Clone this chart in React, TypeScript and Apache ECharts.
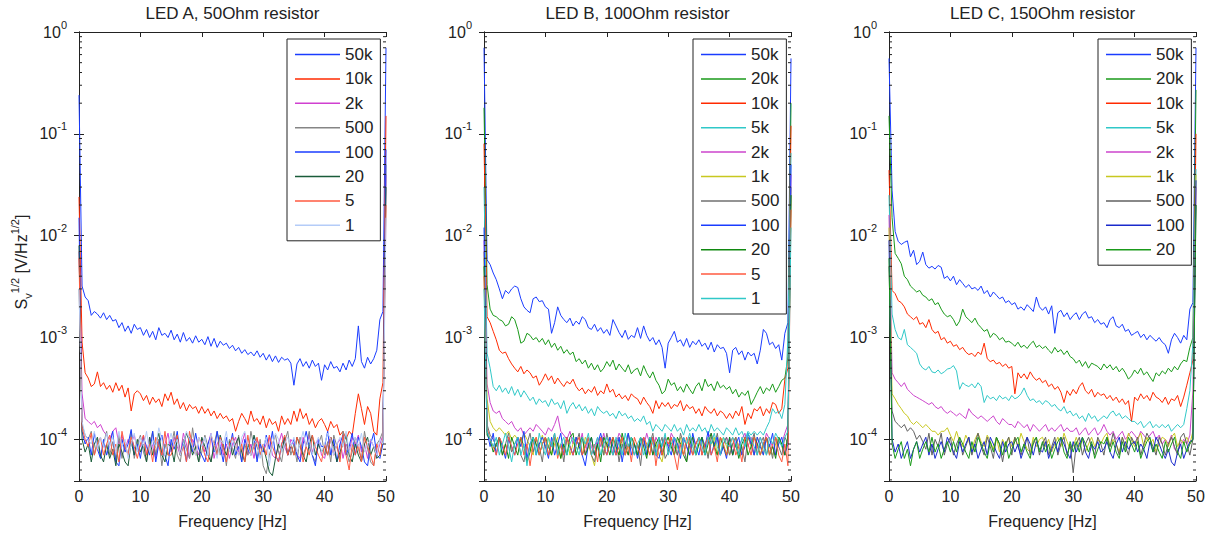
import React, { useEffect, useRef } from 'react';
import * as echarts from 'echarts';

// Values are in units of 1e-5 V/Hz^1/2, sampled every 0.5 Hz from 0 to 50 Hz (101 samples)
const UNIT = 1e-5;
const FREQ_MAX = 50;
const X_TICK_STEP = 10;
const Y_MIN = 3.9e-5;
const Y_MAX = 1;
const MINOR_MULT = [2, 3, 4, 5, 6, 7, 8, 9];
const DECADES = [1e-5, 1e-4, 1e-3, 1e-2, 1e-1];

const TITLES = ['LED A, 50Ohm resistor', 'LED B, 100Ohm resistor', 'LED C, 150Ohm resistor'];
const X_NAME = 'Frequency [Hz]';

// ---------- Panel A ----------
const A_50k = [
  24000, 320, 250, 230, 165, 180, 170, 155, 175, 150,
  165, 145, 150, 125, 140, 115, 130, 110, 135, 120,
  125, 105, 120, 100, 115, 95, 125, 105, 110, 100,
  118, 95, 108, 90, 112, 92, 100, 88, 104, 90,
  96, 85, 102, 82, 98, 80, 92, 84, 88, 78,
  84, 74, 80, 70, 76, 68, 72, 66, 74, 64,
  70, 60, 68, 58, 66, 57, 64, 60, 62, 56,
  34, 55, 62, 52, 58, 50, 60, 52, 56, 38,
  54, 48, 58, 50, 52, 46, 56, 48, 60, 52,
  62, 130, 58, 50, 64, 55, 62, 75, 150, 180,
  70000,
];
const A_10k = [
  2400, 90, 45, 40, 33, 35, 46, 33, 36, 31,
  34, 29, 36, 30, 34, 26, 32, 19, 28, 30,
  28, 24, 27, 22, 26, 23, 25, 21, 28, 24,
  29, 22, 25, 20, 23, 19, 22, 20, 21, 18,
  21, 18, 20, 17, 19, 16, 18, 16, 17, 15,
  16, 12, 15, 18, 16, 14, 19, 15, 16, 14,
  17, 13, 16, 14, 15, 12, 17, 14, 16, 14,
  19, 15, 20, 16, 18, 14, 16, 13, 15, 16,
  14, 12, 15, 13, 14, 11, 12, 10, 12, 11,
  18, 28, 20, 14, 21, 18, 12, 11, 25, 36,
  15000,
];
const A_2k = [
  700, 28, 16, 15, 14, 15, 13, 14, 12, 11,
  10, 12, 13, 9, 11, 8, 10, 9, 11, 8,
  8.5, 11, 7, 10.5, 8.5, 6.5, 10, 7, 9, 11.5,
  7.5, 10.5, 8.5, 7, 11.5, 9, 6.5, 10, 8.5, 7,
  10, 7.5, 9, 11.5, 6.5, 9, 10.5, 7, 9, 6.5,
  9, 10.5, 7.5, 9, 11.5, 7, 9, 6.5, 10, 8.5,
  7.5, 9, 10.5, 7, 6.5, 9, 11.5, 8.5, 7, 10,
  9, 7, 6.5, 10.5, 8.5, 11, 7.5, 9, 10, 7,
  6.5, 9, 10.5, 7, 9, 10, 6.5, 9, 7.5, 10.5,
  9, 11, 7.5, 9, 6.5, 10, 8.5, 7, 9, 11,
  4000,
];
const A_500 = [
  300, 14, 11, 10, 12, 7, 10, 6.5, 9, 12,
  7, 9.5, 6, 11, 6.5, 9, 7, 12, 6.5, 9,
  11, 7.5, 6, 9, 12, 7, 10, 5.5, 9, 7,
  8.5, 12, 7, 6, 10, 8, 6.5, 13, 8, 6,
  7.5, 11, 8.5, 6, 9, 12, 7, 9, 5.5, 10,
  8, 6.5, 11, 6, 9, 7, 12, 8.5, 6.5, 10,
  5.5, 4.6, 7, 9, 11, 7.5, 6, 9.5, 12, 7,
  9, 6, 10.5, 7, 8.5, 12, 7, 6, 9, 11,
  7, 9.5, 6, 11, 8.5, 6.5, 12, 8, 6, 7.5,
  10.5, 8, 6.5, 12, 8, 6, 5.5, 9, 10, 12,
  5000,
];
const A_100 = [
  1500, 12, 9, 10.5, 7, 11.5, 8, 6.5, 10, 7,
  9, 12, 6, 5.5, 10, 7.5, 9, 12.5, 7, 9,
  6.5, 10.5, 8.5, 7, 12, 6, 9, 11, 7, 5.5,
  10, 8, 12, 7, 9.5, 6, 10.5, 7.5, 11.5, 8,
  7, 6, 9, 11, 7.5, 12, 8.5, 6, 10.5, 8,
  11.5, 7, 8.5, 6, 10, 8, 7, 10.5, 6, 9,
  7.5, 11, 8, 12, 7, 6, 9, 10.5, 7, 8.5,
  10, 7, 6, 9, 12, 8.5, 7, 5.5, 10, 8.5,
  8.5, 12, 7, 10, 6, 9, 11, 7, 8.5, 11.5,
  7, 10.5, 8.5, 6, 5.5, 9, 11.5, 7, 6.5, 9,
  7000,
];
const A_20 = [
  800, 10, 7.5, 9, 6, 9, 10.5, 7, 6, 9,
  6.5, 8, 5.5, 9, 7.5, 6, 5.5, 9.5, 7, 10,
  7.5, 9, 6, 10.5, 7, 9, 11.5, 7, 6, 9,
  8.5, 6, 10.5, 7, 9, 11.5, 9.5, 7, 8.5, 6,
  10.5, 8.5, 7, 6, 9, 7, 11, 8.5, 7, 9.5,
  7, 9, 10.5, 7.5, 6, 9, 7, 11, 8.5, 7,
  8.5, 6.5, 4.8, 4.4, 6.5, 9, 7.5, 10.5, 7, 9,
  7, 10.5, 8.5, 7, 6, 9, 11, 7, 9, 7.5,
  8.5, 7, 10.5, 8.5, 6, 7.5, 9, 11, 7, 6,
  9, 7, 6, 9, 10.5, 7, 8.5, 6.5, 7, 10,
  3000,
];
const A_5 = [
  600, 13, 10, 8.5, 11.5, 7, 9, 10.5, 7, 9,
  11, 7, 9, 6, 12, 8.5, 7, 10.5, 8.5, 6.5,
  9, 11, 7, 9, 6, 10.5, 8.5, 7, 12, 7,
  7, 9, 11, 7, 8.5, 6, 12, 8.5, 7, 10.5,
  9, 7, 6, 11, 9, 7, 10.5, 8.5, 6, 9,
  10.5, 8.5, 7, 9, 6, 11, 7, 8.5, 10.5, 7,
  9, 7, 11, 8.5, 7, 6, 9, 11, 7, 9,
  7, 10.5, 9, 6, 8.5, 7, 11, 8.5, 7, 6,
  9, 7, 10.5, 7, 9, 6, 11, 7, 5, 9,
  7, 9, 6, 10.5, 8.5, 7, 5.5, 9, 7, 10.5,
  2000,
];
const A_1 = [
  300, 15, 11, 10, 9, 12, 8, 10.5, 8.5, 11.5,
  8.5, 10.5, 7.5, 12, 8.5, 10, 6.5, 9, 11.5, 7.5,
  10.5, 8.5, 12, 7.5, 10, 8.5, 13, 10, 7, 9,
  11.5, 8.5, 10, 7, 9, 12, 10, 8.5, 7, 10.5,
  8.5, 10.5, 7, 11.5, 8.5, 6.5, 10, 9, 12, 7.5,
  10, 8.5, 7, 10.5, 12, 8.5, 7, 10, 9, 6.5,
  8.5, 10.5, 5.5, 9, 11.5, 10, 7.5, 9, 10.5, 8.5,
  10.5, 7.5, 9, 12, 8.5, 10, 7, 9, 10.5, 7.5,
  9, 11.5, 10, 7, 9, 10.5, 8.5, 12, 7.5, 9,
  10.5, 8.5, 11.5, 7.5, 9, 10, 8.5, 7, 10, 9,
  1500,
];

// ---------- Panel B ----------
const B_50k = [
  70000, 580, 520, 430, 370, 300, 240, 290, 270, 300,
  320, 310, 240, 200, 185, 175, 240, 250, 225, 230,
  200, 190, 110, 140, 200, 165, 150, 140, 155, 130,
  145, 135, 160, 150, 125, 120, 135, 115, 125, 110,
  120, 105, 150, 130, 112, 100, 118, 96, 105, 100,
  125, 98, 130, 105, 92, 100, 85, 95, 80, 50,
  88, 100, 115, 90, 95, 82, 98, 80, 92, 85,
  95, 82, 88, 76, 90, 72, 85, 78, 80, 70,
  45, 75, 80, 68, 74, 60, 72, 66, 70, 55,
  75, 120, 110, 85, 90, 78, 85, 60, 110, 140,
  55000,
];
const B_20k = [
  18000, 330, 190, 165, 160, 150, 145, 130, 135, 160,
  150, 120, 88, 92, 110, 105, 95, 100, 90, 98,
  85, 95, 80, 88, 75, 82, 70, 76, 68, 72,
  58, 62, 55, 60, 50, 56, 48, 54, 46, 50,
  58, 52, 60, 48, 55, 50, 46, 54, 44, 48,
  50, 42, 53, 45, 40, 46, 38, 34, 28, 30,
  39, 34, 36, 30, 33, 29, 35, 31, 28, 33,
  36, 30, 39, 33, 35, 30, 37, 32, 34, 31,
  33, 28, 31, 26, 29, 27, 30, 22, 25, 29,
  33, 28, 32, 30, 35, 29, 33, 38, 40, 65,
  20000,
];
const B_10k = [
  8000, 160, 140, 115, 95, 75, 70, 72, 62, 55,
  50, 46, 52, 44, 48, 45, 40, 42, 34, 38,
  44, 38, 42, 35, 40, 36, 33, 37, 35, 39,
  33, 30, 32, 28, 31, 29, 33, 27, 30, 28,
  35, 29, 31, 26, 28, 25, 27, 24, 28, 26,
  25, 22, 26, 23, 21, 18, 24, 20, 23, 21,
  23, 20, 22, 21, 24, 19, 22, 20, 21, 18,
  20, 17, 21, 19, 18, 20, 17, 19, 18, 16,
  18, 16, 19, 17, 21, 14, 18, 16, 20, 19,
  21, 17, 20, 18, 23, 22, 18, 20, 39, 50,
  12000,
];
const B_5k = [
  3000, 70, 50, 33, 30, 34, 29, 32, 28, 33,
  27, 31, 26, 30, 27, 24, 26, 22, 25, 23,
  24, 21, 25, 22, 23, 20, 24, 18, 21, 23,
  20, 22, 19, 21, 18, 20, 17, 21, 19, 18,
  19, 17, 18, 16, 19, 17, 18, 16, 17, 15,
  16, 15, 17, 14, 15, 12, 14, 13, 12, 14,
  13, 12, 14, 12, 13, 11, 14, 12, 13, 12,
  14, 12, 13, 11, 14, 12, 13, 12, 11, 13,
  12, 11, 13, 11, 12, 10, 12, 11, 12, 11,
  12, 11, 13, 15, 20, 18, 19, 16, 22, 100,
  6500,
];
const B_2k = [
  900, 35, 23, 19, 18, 19, 16, 15, 14, 15,
  13, 12, 13, 11, 12, 13, 12, 14, 13, 12,
  11, 13, 12, 14, 17, 12, 11, 10, 12, 9,
  10.5, 8.5, 11.5, 7, 10.5, 8.5, 7, 10.5, 8.5, 11.5,
  8.5, 10.5, 7, 9, 11.5, 10, 8.5, 7, 10.5, 9,
  7, 10.5, 8.5, 11.5, 9, 7, 10.5, 9, 7, 10.5,
  8.5, 11.5, 10, 7, 9, 10.5, 8.5, 7, 10.5, 9,
  10.5, 8.5, 7, 10.5, 11.5, 8.5, 10, 7, 9, 10.5,
  9, 7, 10.5, 8.5, 10, 11.5, 8.5, 10.5, 7, 9,
  10.5, 8.5, 11.5, 10, 8.5, 7, 10.5, 9, 11.5, 14,
  4000,
];
const B_1k = [
  600, 25, 15, 13, 12, 13, 12, 11, 12, 10,
  11, 10, 8.5, 11.5, 10, 8.5, 7, 10.5, 8.5, 11,
  8.5, 10.5, 7, 9, 10.5, 6.5, 9, 10.5, 7, 9,
  10.5, 8.5, 7, 10.5, 9, 7, 5.5, 9, 10.5, 7,
  9, 10.5, 8.5, 7, 10.5, 9, 7, 8.5, 10.5, 9,
  7, 9, 10.5, 8.5, 7, 10.5, 9, 7, 6, 9,
  10.5, 8.5, 7, 9, 10.5, 7, 9, 10.5, 8.5, 7,
  9, 10.5, 8.5, 7, 9, 10.5, 7, 9, 10.5, 8.5,
  7, 9, 10.5, 8.5, 7, 9, 10.5, 8.5, 7, 10.5,
  9, 7, 10.5, 8.5, 7, 9, 10.5, 8.5, 7, 10.5,
  2500,
];
const B_500 = [
  700, 14, 11, 10, 8.5, 10.5, 7, 9, 11.5, 7.5,
  9, 10.5, 7, 6, 9, 11.5, 7.5, 10, 8.5, 6,
  10.5, 7, 9, 11.5, 7, 9, 6, 10.5, 8.5, 7,
  9, 11.5, 7, 8.5, 10.5, 7, 6, 9, 10.5, 7,
  11.5, 8.5, 7, 10, 6, 9, 7, 11.5, 8.5, 7,
  9, 5.5, 10.5, 7, 9, 11.5, 7, 8.5, 10.5, 6.5,
  7.5, 10.5, 8.5, 7, 11.5, 9, 6, 10.5, 7, 9,
  10.5, 7, 9, 6.5, 10.5, 8.5, 11.5, 7, 9, 10.5,
  7, 9, 10.5, 7, 8.5, 6, 10.5, 9, 11.5, 7,
  9, 10.5, 7, 9, 6.5, 10.5, 8.5, 7, 10.5, 9,
  3000,
];
const B_100 = [
  1200, 12, 8.5, 11.5, 7, 10.5, 8.5, 6.5, 10, 8.5,
  7, 10.5, 8.5, 12, 6.5, 9, 10.5, 7, 9, 10.5,
  8.5, 6.5, 10.5, 7, 9, 11.5, 7, 10.5, 8.5, 7,
  10.5, 8.5, 7, 5.5, 9, 10.5, 7, 9, 11.5, 8.5,
  7, 10.5, 8.5, 7, 10.5, 6, 9, 11.5, 7, 9,
  6.5, 9, 10.5, 7, 9, 10.5, 7, 6.5, 9, 10.5,
  8.5, 7, 10.5, 9, 6.5, 10.5, 8.5, 7, 11.5, 8.5,
  7, 10.5, 8.5, 12, 7, 9, 10.5, 7, 8.5, 6.5,
  10.5, 7, 9, 10.5, 7, 8.5, 11.5, 9, 7, 10.5,
  8.5, 7, 10.5, 8.5, 11.5, 7, 9, 10.5, 7, 9,
  5000,
];
const B_20 = [
  500, 11, 10, 7.5, 9, 10.5, 7, 9, 6.5, 10.5,
  8.5, 7, 10.5, 8.5, 6, 7.5, 10.5, 9, 7, 9,
  10.5, 8.5, 7, 10.5, 9, 6.5, 9, 7, 10.5, 11.5,
  7, 9, 10.5, 7, 8.5, 10.5, 7, 9, 6, 10.5,
  9, 7, 10.5, 8.5, 7, 11.5, 8.5, 7, 10.5, 9,
  7, 10.5, 8.5, 6.5, 10.5, 7, 9, 10.5, 7, 9,
  10.5, 8.5, 7, 10.5, 9, 7, 6, 9, 10.5, 7,
  9, 10.5, 7, 9, 11.5, 8.5, 7, 10.5, 8.5, 7,
  10.5, 7, 9, 6.5, 9, 10.5, 7, 8.5, 10.5, 9,
  7, 9, 10.5, 7, 8.5, 6.5, 10.5, 9, 7, 11,
  2500,
];
const B_5 = [
  400, 13, 10, 8.5, 7, 10.5, 9, 7, 10.5, 8.5,
  7, 9, 10.5, 7, 9, 5.5, 9, 10.5, 7, 9,
  10.5, 7, 9, 10.5, 6.5, 9, 7, 10.5, 8.5, 7,
  9, 10.5, 7, 8.5, 10.5, 7, 9, 6, 10.5, 8.5,
  7, 9, 10.5, 7, 8.5, 10.5, 7, 9, 6, 10.5,
  8.5, 7, 10.5, 9, 7, 10.5, 5.5, 9, 7, 10.5,
  9, 10.5, 7, 5, 9, 7, 10.5, 8.5, 7, 9,
  10.5, 7, 9, 10.5, 7, 8.5, 6, 10.5, 9, 7,
  9, 10.5, 7, 8.5, 6, 10.5, 9, 7, 10.5, 8.5,
  7, 9, 10.5, 7, 9, 10.5, 7, 6, 9, 5.5,
  1800,
];
const B_1 = [
  300, 12, 10, 8.5, 10.5, 7, 9, 11.5, 8.5, 6,
  9, 10.5, 7, 9, 5.5, 9, 10.5, 7, 11.5, 8.5,
  7, 10.5, 8.5, 11.5, 7, 9, 10.5, 7, 9, 10.5,
  8.5, 7, 10.5, 9, 11.5, 7, 8.5, 10.5, 7, 9,
  10.5, 8.5, 7, 10.5, 9, 7, 11.5, 8.5, 10.5, 7,
  9, 10.5, 7, 8.5, 10.5, 9, 7, 10.5, 8.5, 11.5,
  7, 9, 10.5, 8.5, 7, 10.5, 9, 11.5, 8.5, 7,
  10.5, 8.5, 7, 10.5, 9, 11.5, 8.5, 7, 10.5, 9,
  8.5, 10.5, 9, 7, 10.5, 8.5, 11.5, 10, 8.5, 7,
  10.5, 8.5, 7, 10.5, 9, 11.5, 10, 8.5, 10.5, 12,
  1200,
];

// ---------- Panel C ----------
const C_50k = [
  55000, 2800, 1100, 880, 820, 860, 890, 620, 720, 520,
  560, 690, 520, 480, 500, 470, 510, 490, 380, 400,
  360, 400, 330, 370, 340, 310, 330, 300, 310, 290,
  320, 270, 290, 250, 280, 260, 240, 250, 220, 230,
  210, 220, 190, 200, 185, 210, 195, 180, 250, 200,
  185, 200, 170, 205, 110, 175, 185, 160, 175, 150,
  165, 175, 150, 170, 180, 155, 160, 140, 150, 135,
  140, 125, 150, 160, 130, 125, 135, 115, 120, 105,
  110, 115, 100, 108, 95, 105, 98, 92, 100, 90,
  85, 70, 95, 110, 100, 88, 105, 95, 190, 220,
  70000,
];
const C_20k = [
  15000, 1500, 670, 600, 530, 400, 370, 320, 300, 280,
  290, 260, 250, 230, 240, 210, 220, 190, 170, 160,
  165, 150, 130, 145, 190, 160, 150, 140, 155, 135,
  125, 115, 120, 100, 110, 105, 95, 100, 90, 92,
  88, 82, 90, 80, 84, 78, 86, 92, 80, 84,
  78, 82, 75, 70, 80, 72, 76, 68, 74, 65,
  62, 56, 60, 52, 58, 50, 56, 54, 52, 48,
  55, 50, 54, 48, 52, 46, 50, 45, 39, 42,
  48, 44, 50, 43, 46, 41, 37, 45, 42, 47,
  44, 50, 46, 52, 48, 55, 60, 58, 80, 100,
  27000,
];
const C_10k = [
  4400, 290, 270, 230, 220, 200, 170, 160, 150, 160,
  135, 140, 125, 150, 120, 110, 115, 95, 100, 88,
  92, 82, 85, 76, 80, 72, 68, 70, 65, 72,
  68, 88, 62, 58, 60, 55, 57, 52, 55, 50,
  52, 28, 45, 40, 44, 39, 46, 41, 38, 40,
  36, 38, 33, 35, 31, 33, 29, 23, 30, 27,
  31, 28, 33, 36, 30, 28, 31, 26, 29, 27,
  28, 25, 27, 24, 26, 23, 25, 22, 24, 15,
  26, 24, 28, 25, 27, 24, 29, 26, 25, 23,
  26, 22, 25, 24, 27, 21, 26, 34, 45, 60,
  10000,
];
const C_5k = [
  2500, 170, 120, 100, 95, 120, 85, 80, 75, 70,
  55, 50, 48, 52, 46, 45, 48, 44, 46, 49,
  50, 53, 47, 31, 36, 34, 33, 35, 32, 36,
  33, 23, 27, 25, 26, 24, 27, 25, 26, 24,
  27, 25, 26, 28, 32, 27, 24, 25, 23, 24,
  22, 24, 23, 21, 22, 20, 19, 21, 18, 19,
  17, 18, 16, 17, 15, 18, 16, 17, 15, 16,
  17, 16, 18, 19, 17, 18, 16, 17, 16, 15,
  15, 14, 15, 13, 14, 15, 13, 14, 13, 14,
  13, 14, 12, 13, 14, 13, 14, 20, 30, 90,
  4500,
];
const C_2k = [
  1600, 45, 39, 36, 33, 36, 31, 29, 27, 26,
  25, 24, 23, 22, 23, 21, 20, 21, 19, 18,
  19, 18, 17, 18, 17, 16, 20, 18, 17, 16,
  17, 16, 15, 16, 17, 15, 14, 16, 15, 14,
  14, 13, 15, 14, 13, 14, 12, 14, 13, 12,
  13, 14, 12, 13, 12, 13, 14, 12, 13, 12,
  12, 13, 11, 12, 13, 11, 12, 13, 11, 12,
  14, 12, 11, 12, 10, 11, 12, 10, 11, 12,
  11, 10, 12, 11, 10, 11, 12, 10, 11, 9,
  10, 9, 11, 8, 7.5, 9, 10, 9, 11, 30,
  3000,
];
const C_1k = [
  1200, 28, 25, 22, 20, 18, 17, 15, 14, 15,
  14, 13, 14, 13, 12, 12, 11, 12, 12, 13,
  11, 9.5, 12, 9.5, 8.5, 11, 9.5, 8, 10, 11.5,
  9.5, 8.5, 11, 9.5, 8, 10.5, 7.5, 10, 8.5, 10.5,
  8.5, 10.5, 8.5, 11.5, 9.5, 8, 7.5, 10.5, 8.5, 10,
  10.5, 8.5, 10, 7.5, 9, 10.5, 8.5, 11.5, 9.5, 8,
  8.5, 10.5, 8.5, 10, 7.5, 9, 10.5, 8.5, 10, 9,
  10.5, 11.5, 8.5, 10, 9, 7.5, 10.5, 8.5, 11.5, 10,
  8.5, 10, 11.5, 8.5, 10.5, 9, 10, 7.5, 9, 10.5,
  10, 8.5, 10.5, 11.5, 8.5, 10, 9, 10.5, 9, 12,
  4000,
];
const C_500 = [
  500, 19, 15, 14, 13, 14, 12, 13, 12, 10,
  11, 9.5, 8, 11.5, 7, 10, 8.5, 11.5, 7, 9,
  10.5, 7, 9, 10.5, 7, 8.5, 10.5, 7, 9, 11.5,
  8.5, 7, 10.5, 8.5, 6.5, 10.5, 9, 6, 9, 10.5,
  7, 10.5, 8.5, 7, 9, 10.5, 7, 9, 10.5, 7,
  9, 10.5, 7, 8.5, 10.5, 7, 9, 10.5, 7, 9,
  4.7, 9, 10.5, 7, 9, 10.5, 8.5, 7, 10.5, 9,
  7, 10.5, 8.5, 11.5, 9, 7, 10.5, 8.5, 7, 10.5,
  9, 10.5, 7, 9, 11.5, 10, 8.5, 7, 10.5, 9,
  7, 9, 10.5, 8.5, 7, 10.5, 11.5, 9, 7, 10,
  2000,
];
const C_100 = [
  900, 10, 7.5, 9, 6.5, 8, 9.5, 6.5, 8, 9.5,
  7.5, 9, 10.5, 7, 9, 6.5, 8, 9.5, 7.5, 10.5,
  9, 7.5, 6.5, 9.5, 7.5, 9, 10.5, 7.5, 9, 6.5,
  8, 9.5, 7, 10.5, 9, 7.5, 6.5, 9.5, 7.5, 9,
  9.5, 7.5, 9, 6.5, 8, 10.5, 9, 7, 9.5, 8,
  7.5, 9.5, 6.5, 8, 9.5, 7.5, 10.5, 9, 7.5, 6.5,
  9.5, 7.5, 9, 10.5, 7.5, 6.5, 9, 8, 9.5, 7.5,
  8, 9.5, 7.5, 6.5, 9, 10.5, 7.5, 9.5, 8, 9,
  9.5, 7.5, 9, 8, 6.5, 9.5, 7.5, 10.5, 9, 7.5,
  6.5, 8, 6, 5.5, 7.5, 9, 6.5, 8, 9.5, 10,
  3500,
];
const C_20 = [
  600, 9, 6.5, 8, 9.5, 6.5, 8, 5.5, 8, 9.5,
  6.5, 8, 9.5, 7.5, 10.5, 7.5, 9, 6.5, 8, 9.5,
  7.5, 9.5, 7.5, 10.5, 9, 7.5, 6.5, 9.5, 7.5, 10.5,
  9, 7.5, 6.5, 9.5, 7.5, 10.5, 9, 7, 9.5, 6.5,
  8, 9.5, 10.5, 7.5, 9, 7.5, 6.5, 9.5, 10.5, 7.5,
  9.5, 7.5, 9, 6.5, 8, 9.5, 10.5, 7.5, 6.5, 9.5,
  7.5, 9.5, 7.5, 10.5, 9, 7.5, 9.5, 6.5, 8, 9.5,
  9, 10.5, 7.5, 9.5, 7.5, 6.5, 9.5, 7.5, 10.5, 9,
  7.5, 9.5, 6.5, 8, 9.5, 10.5, 7.5, 9, 7.5, 6.5,
  9.5, 7.5, 9, 10.5, 7.5, 6.5, 9.5, 7.5, 9, 10,
  2000,
];

type Trace = { name: string; color: string; data: number[] };

const BLUE = '#1a3cff';
const RED = '#ff2a00';
const SALMON = '#ff5a40';
const GREEN = '#1a9a1a';
const CYAN = '#30c8c8';
const MAGENTA = '#cc44cc';
const YELLOW = '#c8c820';

const PANEL_A: Trace[] = [
  { name: '50k', color: BLUE, data: A_50k },
  { name: '10k', color: RED, data: A_10k },
  { name: '2k', color: '#d040d0', data: A_2k },
  { name: '500', color: '#858585', data: A_500 },
  { name: '100', color: BLUE, data: A_100 },
  { name: '20', color: '#1a5c3a', data: A_20 },
  { name: '5', color: SALMON, data: A_5 },
  { name: '1', color: '#b4ccf8', data: A_1 },
];
const PANEL_B: Trace[] = [
  { name: '50k', color: BLUE, data: B_50k },
  { name: '20k', color: GREEN, data: B_20k },
  { name: '10k', color: RED, data: B_10k },
  { name: '5k', color: CYAN, data: B_5k },
  { name: '2k', color: MAGENTA, data: B_2k },
  { name: '1k', color: YELLOW, data: B_1k },
  { name: '500', color: '#707070', data: B_500 },
  { name: '100', color: BLUE, data: B_100 },
  { name: '20', color: '#108810', data: B_20 },
  { name: '5', color: SALMON, data: B_5 },
  { name: '1', color: CYAN, data: B_1 },
];
const PANEL_C: Trace[] = [
  { name: '50k', color: BLUE, data: C_50k },
  { name: '20k', color: GREEN, data: C_20k },
  { name: '10k', color: RED, data: C_10k },
  { name: '5k', color: CYAN, data: C_5k },
  { name: '2k', color: MAGENTA, data: C_2k },
  { name: '1k', color: YELLOW, data: C_1k },
  { name: '500', color: '#606060', data: C_500 },
  { name: '100', color: '#1a2acc', data: C_100 },
  { name: '20', color: GREEN, data: C_20 },
];
const PANELS = [PANEL_A, PANEL_B, PANEL_C];

const FONT = 'Liberation Sans';
const INK = '#222';
const GRID_LEFT = [79, 484, 889];
const GRID_TOP = 32;
const GRID_W = 307;
const GRID_H = 449;
const LEGEND_LEFT = [287, 693, 1098];

function buildOption() {
  const grid: any[] = [];
  const xAxis: any[] = [];
  const yAxis: any[] = [];
  const series: any[] = [];
  const legend: any[] = [];
  const graphic: any[] = [];
  const minorTicks: number[] = [];
  DECADES.forEach((d) => MINOR_MULT.forEach((m) => {
    const v = d * m;
    if (v >= Y_MIN && v < Y_MAX) minorTicks.push(v);
  }));

  PANELS.forEach((traces, p) => {
    grid.push({ left: GRID_LEFT[p], top: GRID_TOP, width: GRID_W, height: GRID_H });
    const xBase = {
      type: 'value', gridIndex: p, min: 0, max: FREQ_MAX, interval: X_TICK_STEP,
      axisLine: { show: true, onZero: false, lineStyle: { color: INK, width: 1 } },
      axisTick: { show: true, inside: true, length: 5, lineStyle: { color: INK } },
      splitLine: { show: false },
    };
    xAxis.push({ ...xBase, position: 'bottom',
      axisLabel: { show: true, fontSize: 16, color: INK, fontFamily: FONT, margin: 7 } });
    xAxis.push({ ...xBase, position: 'top', axisLabel: { show: false } });
    const yBase = {
      type: 'log', logBase: 10, gridIndex: p, min: Y_MIN, max: Y_MAX,
      axisLine: { show: true, lineStyle: { color: INK, width: 1 } },
      axisTick: { show: true, inside: true, length: 5, lineStyle: { color: INK } },
      splitLine: { show: false },
    };
    yAxis.push({ ...yBase, position: 'left',
      axisLabel: {
        show: true, margin: 12, showMinLabel: false, showMaxLabel: true,
        formatter: (v: number) => `{b|10}{s|${Math.round(Math.log10(v))}}`,
        rich: {
          b: { fontSize: 16, lineHeight: 26, color: INK, fontFamily: FONT },
          s: { fontSize: 11, lineHeight: 12, verticalAlign: 'top', color: INK, fontFamily: FONT },
        },
      } });
    yAxis.push({ ...yBase, position: 'right', axisLabel: { show: false } });

    traces.forEach((t) => {
      series.push({
        type: 'line', name: `${p}|${t.name}`, xAxisIndex: p * 2, yAxisIndex: p * 2,
        data: t.data.map((v, i) => [(i * FREQ_MAX) / (t.data.length - 1), v * UNIT]),
        showSymbol: false, symbol: 'none', silent: true,
        lineStyle: { width: 1, color: t.color }, itemStyle: { color: t.color },
        emphasis: { disabled: true }, z: 2,
      });
    });

    series.push({
      type: 'custom', name: `minor${p}`, xAxisIndex: p * 2, yAxisIndex: p * 2, silent: true, z: 3,
      data: minorTicks.map((v) => [0, v]),
      renderItem: (_params: any, api: any) => {
        const v = api.value(1);
        const l = api.coord([0, v]);
        const r = api.coord([FREQ_MAX, v]);
        return {
          type: 'group',
          children: [
            { type: 'line', shape: { x1: l[0], y1: l[1], x2: l[0] + 3, y2: l[1] }, style: { stroke: INK, lineWidth: 1 } },
            { type: 'line', shape: { x1: r[0], y1: r[1], x2: r[0] - 3, y2: r[1] }, style: { stroke: INK, lineWidth: 1 } },
          ],
        };
      },
    });

    legend.push({
      orient: 'vertical', left: LEGEND_LEFT[p], top: 39,
      data: traces.map((t) => `${p}|${t.name}`),
      formatter: (name: string) => name.split('|')[1],
      icon: 'rect', itemWidth: 45, itemHeight: 1.5, itemGap: 7.4,
      padding: [7, 7, 7, 8], borderColor: INK, borderWidth: 1, backgroundColor: '#fff',
      selectedMode: false,
      textStyle: { fontSize: 17, lineHeight: 17, color: INK, fontFamily: FONT },
    });

    const cx = GRID_LEFT[p] + GRID_W / 2;
    graphic.push({
      type: 'text', x: cx, y: 13,
      style: { text: TITLES[p], font: `17px "${FONT}"`, fill: INK, textAlign: 'center', textVerticalAlign: 'middle', align: 'center', verticalAlign: 'middle' },
    });
    graphic.push({
      type: 'text', x: cx, y: 521,
      style: { text: X_NAME, font: `16px "${FONT}"`, fill: INK, textAlign: 'center', textVerticalAlign: 'middle', align: 'center', verticalAlign: 'middle' },
    });
  });

  graphic.push({
    type: 'text', x: 21, y: 262, rotation: Math.PI / 2,
    style: {
      text: '{n|S}{sub|v}{sup|1/2}{n| [V/Hz}{sup|1/2}{n|]}',
      textAlign: 'center', textVerticalAlign: 'middle', align: 'center', verticalAlign: 'middle',
      fill: INK,
      rich: {
        n: { fontSize: 16, lineHeight: 24, fontFamily: FONT, fill: INK },
        sup: { fontSize: 11, lineHeight: 12, verticalAlign: 'top', fontFamily: FONT, fill: INK },
        sub: { fontSize: 11, lineHeight: 12, verticalAlign: 'bottom', fontFamily: FONT, fill: INK },
      },
    },
  });

  return {
    animation: false,
    backgroundColor: '#fff',
    textStyle: { fontFamily: FONT },
    grid, xAxis, yAxis, series, legend, graphic,
  };
}

export default function App() {
  const ref = useRef<HTMLDivElement>(null);
  useEffect(() => {
    if (!ref.current) return;
    const chart = echarts.init(ref.current, undefined, { renderer: 'svg' });
    chart.setOption(buildOption() as any);
    return () => chart.dispose();
  }, []);
  return <div ref={ref} style={{ position: 'fixed', left: 0, top: 0, width: 1209, height: 535, background: '#fff' }} />;
}
